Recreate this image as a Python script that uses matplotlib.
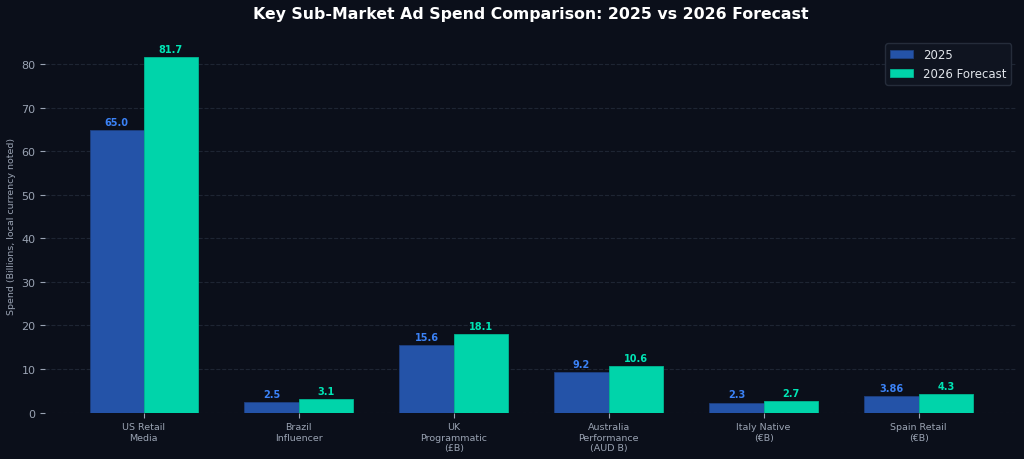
import matplotlib
matplotlib.use("Agg")
import matplotlib.pyplot as plt
import numpy as np

# chart data
categories = ["US Retail\nMedia", "Brazil\nInfluencer", "UK\nProgrammatic\n(£B)",
              "Australia\nPerformance\n(AUD B)", "Italy Native\n(€B)", "Spain Retail\n(€B)"]
spend_2025 = [65.0, 2.5, 15.6, 9.2, 2.3, 3.86]
spend_2026 = [81.7, 3.1, 18.1, 10.6, 2.7, 4.3]
labels_2025 = ["65.0", "2.5", "15.6", "9.2", "2.3", "3.86"]
labels_2026 = ["81.7", "3.1", "18.1", "10.6", "2.7", "4.3"]

bg = "#0b0f1a"
blue = "#2453a8"
teal = "#00d4aa"
blue_txt = "#3b82f6"
teal_txt = "#00e5b5"
muted = "#9aa3b3"

fig, ax = plt.subplots(figsize=(10.24, 4.6), dpi=100)
fig.patch.set_facecolor(bg)
ax.set_facecolor(bg)

x = np.arange(len(categories))
w = 0.35
b1 = ax.bar(x - w / 2, spend_2025, w, color=blue, edgecolor="#1d3f80", linewidth=0.6, label="2025")
b2 = ax.bar(x + w / 2, spend_2026, w, color=teal, edgecolor="#00b892", linewidth=0.6, label="2026 Forecast")

for rect, txt in zip(b1, labels_2025):
    ax.text(rect.get_x() + rect.get_width() / 2, rect.get_height() + 0.7, txt,
            ha="center", va="bottom", color=blue_txt, fontsize=7, fontweight="bold")
for rect, txt in zip(b2, labels_2026):
    ax.text(rect.get_x() + rect.get_width() / 2, rect.get_height() + 0.7, txt,
            ha="center", va="bottom", color=teal_txt, fontsize=7, fontweight="bold")

ax.set_xticks(x)
ax.set_xticklabels(categories, fontsize=6.8, color=muted)
ax.set_ylim(0, max(spend_2026) * 1.055)
ax.set_yticks(np.arange(0, 81, 10))
ax.tick_params(axis="y", colors=muted, labelsize=8)
ax.tick_params(axis="x", colors=muted)
ax.set_ylabel("Spend (Billions, local currency noted)", color=muted, fontsize=6.8)

ax.grid(axis="y", linestyle="--", color="#1e2533", linewidth=0.8)
ax.set_axisbelow(True)
for s in ax.spines.values():
    s.set_visible(False)

ax.set_title("Key Sub-Market Ad Spend Comparison: 2025 vs 2026 Forecast",
             color="white", fontsize=11.3, fontweight="bold", pad=14)

leg = ax.legend(loc="upper right", fontsize=8.5, facecolor="#0f1420", edgecolor="#252c3a",
                labelcolor="#e0e4ea", framealpha=1)

fig.tight_layout(pad=0.5)
fig.savefig("out.png", facecolor=bg)
